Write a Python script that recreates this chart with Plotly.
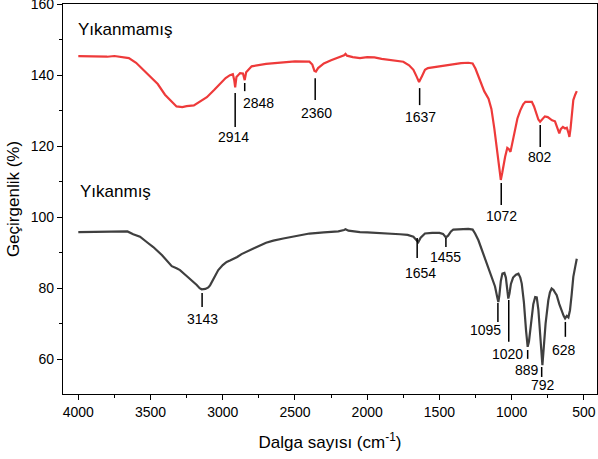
import plotly.graph_objects as go

# Yıkanmamış (red) spectrum
wn_red = [4000, 3900, 3800, 3750, 3700, 3650, 3600, 3550, 3500, 3450, 3400, 3350, 3320, 3280, 3250, 3200,
          3150, 3110, 3060, 3020, 2980, 2950, 2930, 2920, 2914, 2905, 2880, 2860, 2848, 2838, 2800, 2700,
          2600, 2500, 2400, 2380, 2365, 2355, 2340, 2300, 2250, 2200, 2160, 2150, 2140, 2100, 2050, 2000,
          1950, 1900, 1850, 1800, 1750, 1710, 1680, 1660, 1641, 1620, 1600, 1580, 1550, 1500, 1450, 1400,
          1350, 1300, 1270, 1250, 1220, 1190, 1160, 1140, 1120, 1100, 1085, 1075, 1065, 1055, 1045, 1030,
          1020, 1008, 995, 980, 960, 940, 920, 905, 880, 860, 845, 830, 815, 803, 790, 770, 750, 720, 700,
          685, 670, 660, 645, 630, 618, 605, 600, 592, 584, 573, 560, 549]
t_red = [145.35, 145.3, 145.2, 145.4, 145.1, 144.8, 143.5, 141.5, 139.4, 137.5, 134.5, 132.3, 131.2, 131.0,
         131.3, 131.5, 132.7, 133.8, 135.8, 137.6, 139.2, 140.0, 140.3, 138.5, 136.6, 139.5, 140.6, 140.5,
         138.6, 140.8, 142.5, 143.2, 143.6, 143.9, 143.8, 143.0, 141.2, 141.0, 142.0, 143.3, 144.2, 144.9,
         145.6, 146.0, 145.5, 145.1, 144.8, 145.1, 145.0, 144.6, 144.4, 144.2, 143.8, 142.8, 141.5, 139.8,
         138.1, 139.8, 141.5, 142.0, 142.2, 142.4, 142.9, 143.2, 143.4, 143.5, 143.3, 141.8, 138.6, 135.5,
         133.4, 130.5, 125.0, 118.5, 112.5, 110.5, 112.5, 115.0, 117.0, 119.5, 119.2, 118.4, 121.0, 124.5,
         127.8, 130.1, 131.8, 132.5, 132.6, 132.5, 131.2, 129.5, 127.5, 126.9, 127.5, 128.4, 128.2, 127.3,
         127.0, 125.5, 123.6, 124.8, 125.4, 125.0, 125.2, 123.5, 122.6, 125.0, 128.5, 133.0, 134.5, 135.5]

# Yıkanmış (dark grey) spectrum
wn_blk = [4000, 3900, 3800, 3700, 3660, 3620, 3573, 3520, 3481, 3420, 3380, 3353, 3320, 3296, 3260, 3215,
          3180, 3160, 3146, 3120, 3100, 3088, 3060, 3031, 3000, 2973, 2950, 2927, 2900, 2870, 2834, 2780,
          2700, 2650, 2581, 2500, 2465, 2400, 2300, 2250, 2200, 2160, 2150, 2130, 2100, 2050, 2000, 1950,
          1900, 1850, 1800, 1773, 1720, 1680, 1660, 1646, 1630, 1600, 1550, 1500, 1475, 1455, 1440, 1420,
          1404, 1350, 1300, 1270, 1253, 1230, 1196, 1170, 1138, 1115, 1100, 1092, 1085, 1075, 1064, 1050,
          1040, 1030, 1023, 1015, 1005, 990, 970, 953, 940, 930, 915, 900, 889, 880, 865, 850, 837, 826,
          815, 800, 792, 787, 780, 765, 746, 735, 723, 710, 700, 688, 670, 653, 640, 630, 618, 607, 596,
          585, 573, 560, 549]
t_blk = [95.8, 95.9, 96.0, 96.1, 96.0, 95.2, 94.5, 92.8, 91.6, 89.3, 87.5, 86.2, 85.6, 85.1, 83.8, 82.3,
         80.9, 80.0, 79.7, 79.8, 80.2, 80.8, 82.8, 85.1, 86.5, 87.4, 87.8, 88.2, 88.8, 89.6, 90.2, 91.3,
         92.8, 93.4, 94.0, 94.7, 95.0, 95.4, 95.7, 95.8, 96.0, 96.4, 96.6, 96.2, 96.0, 95.8, 95.7, 95.6,
         95.6, 95.5, 95.3, 95.2, 95.0, 94.5, 93.6, 93.0, 94.2, 95.4, 95.6, 95.6, 95.3, 94.3, 94.8, 96.0,
         96.5, 96.7, 96.7, 96.5, 95.4, 93.5, 89.8, 87.0, 83.2, 80.5, 77.5, 76.1, 78.0, 82.0, 84.1, 84.3,
         83.0, 80.0, 77.1, 78.5, 81.2, 83.0, 83.8, 84.1, 83.0, 81.3, 76.0, 68.0, 63.5, 65.0, 70.5, 75.5,
         77.5, 77.4, 74.0, 66.0, 59.5, 58.3, 62.0, 70.0, 76.6, 78.8, 79.9, 79.5, 78.8, 78.0, 75.5, 73.3,
         72.2, 71.5, 72.2, 71.8, 73.8, 78.0, 83.2, 86.0, 88.3]

# Peak labels
peak_labels = ["2914", "2848", "2360", "1637", "1072", "802",
               "3143", "1654", "1455", "1095", "1020", "889", "792", "628"]
peak_x = [2914, 2848, 2360, 1637, 1072, 802, 3143, 1654, 1455, 1095, 1020, 889, 792, 628]
line_top = [134.95, 137.8, 139.17, 136.36, 109.62, 125.94, 78.66, 94.14, 94.14, 75.85, 76.7, 62.6, 57.8, 70.5]
line_bot = [125.4, 135.5, 132.98, 131.57, 103.43, 119.75, 74.72, 88.51, 91.6, 70.5, 64.9, 60.1, 55.0, 66.3]
text_y = [122.6, 132.1, 129.3, 128.2, 100.3, 116.9, 71.3, 84.3, 88.8, 68.2, 61.5, 57.0, 52.8, 62.6]
text_anchor = ["center", "left", "center", "center", "center", "center",
               "center", "center", "center", "right", "center", "center", "center", "center"]
text_shift = [-2, -4, 1, 1, 0, 0, 0, 3, 0, 5, -1, -1, 1, -1]

FONT = "Liberation Sans, Arial, sans-serif"

fig = go.Figure()
fig.add_trace(go.Scatter(x=wn_red, y=t_red, mode="lines", line=dict(color="#EE3A3A", width=2.2),
                         showlegend=False))
fig.add_trace(go.Scatter(x=wn_blk, y=t_blk, mode="lines", line=dict(color="#3F3F3F", width=2.2),
                         showlegend=False))

for lab, x, y0, y1, ty, xa, xs in zip(peak_labels, peak_x, line_top, line_bot, text_y, text_anchor, text_shift):
    fig.add_shape(type="line", x0=x, x1=x, y0=y0, y1=y1, xref="x", yref="y",
                  line=dict(color="black", width=1.5))
    fig.add_annotation(x=x, y=ty, text=lab, showarrow=False, xanchor=xa, yanchor="middle",
                       xshift=xs, font=dict(family=FONT, size=14, color="black"))

fig.add_annotation(x=4016, y=152.8, text="Yıkanmamış", showarrow=False, xanchor="left", yanchor="middle",
                   font=dict(family=FONT, size=17, color="black"))
fig.add_annotation(x=4000, y=107.2, text="Yıkanmış", showarrow=False, xanchor="left", yanchor="middle",
                   font=dict(family=FONT, size=17, color="black"))

axis_common = dict(showline=True, linecolor="black", linewidth=1.3, mirror=True, ticks="outside",
                   ticklen=5, tickwidth=1.3, tickcolor="black", showgrid=False, zeroline=False,
                   ticklabeloverflow="allow", automargin=False,
                   tickfont=dict(family=FONT, size=14, color="black"))

fig.update_xaxes(range=[4106, 409], tickvals=[4000, 3500, 3000, 2500, 2000, 1500, 1000, 500],
                 minor=dict(ticks="outside", ticklen=3, tickwidth=1.2, tickcolor="black",
                            tickvals=[3750, 3250, 2750, 2250, 1750, 1250, 750]),
                 title=dict(text="Dalga sayısı (cm<sup>-1</sup>)", font=dict(family=FONT, size=17, color="black"),
                            standoff=17),
                 **axis_common)
fig.update_yaxes(range=[50.2, 160.05], tickvals=[60, 80, 100, 120, 140, 160],
                 minor=dict(ticks="outside", ticklen=3, tickwidth=1.2, tickcolor="black",
                            tickvals=[70, 90, 110, 130, 150]),
                 title=dict(text="Geçirgenlik (%)", font=dict(family=FONT, size=17, color="black"),
                            standoff=6),
                 **axis_common)

fig.update_layout(width=598, height=459, margin=dict(l=63, r=1, t=4, b=65),
                  paper_bgcolor="white", plot_bgcolor="white")

fig.write_html("out.html")
